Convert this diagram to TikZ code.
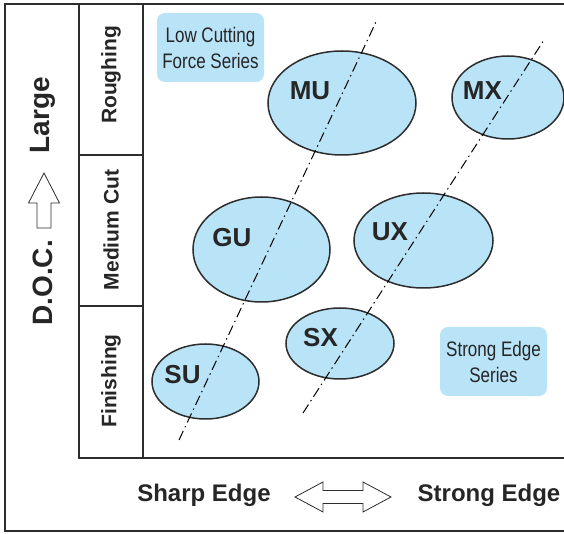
\documentclass[tikz,border=0pt]{standalone}
\usepackage{fontspec}
\setmainfont{Liberation Sans}
\newfontfamily\narrowsans[FakeStretch=0.81]{Liberation Sans}
\usetikzlibrary{shapes.geometric}

\definecolor{seriesblue}{RGB}{185,227,247}
\definecolor{frameline}{RGB}{45,45,45}

\tikzset{
  grade/.style={ellipse, draw=frameline, line width=0.75pt, fill=seriesblue, inner sep=0pt},
  gradename/.style={font=\fontsize{13}{15}\selectfont\bfseries, text=black!85},
  centreline/.style={line width=0.5pt, dash pattern=on 5pt off 2pt on 0.7pt off 2pt},
  seriesbox/.style={fill=seriesblue, rounded corners=4pt, align=center, inner sep=0pt,
    font=\narrowsans\fontsize{10.5}{13}\selectfont, text=black!85},
  rowlabel/.style={rotate=90, font=\fontsize{10.5}{12}\selectfont\bfseries, text=black!85},
  bigaxis/.style={rotate=90, font=\fontsize{14}{16}\selectfont\bfseries, text=black!85},
  axislabel/.style={font=\fontsize{12}{14}\selectfont\bfseries, text=black!85},
  hollow/.style={draw=frameline, line width=0.4pt, fill=white}
}

\begin{document}
\begin{tikzpicture}[x=0.5pt, y=-0.5pt]
    \useasboundingbox (0,0) rectangle (564,534);

    % Outer frame and the chart area
    \draw[frameline, line width=0.8pt] (564,4) -- (5,4) -- (5,531) -- (564,531);
    \draw[frameline, line width=0.8pt] (79,4) -- (79,458) -- (564,458);
    \draw[frameline, line width=0.8pt] (143,4) -- (143,458);
    \draw[frameline, line width=0.8pt] (79,155) -- (143,155);
    \draw[frameline, line width=0.8pt] (79,306) -- (143,306);

    % Cutting depth rows
    \node[rowlabel] (rough) at (111,75) {Roughing};
    \node[rowlabel] (medium) at (111,230) {Medium Cut};
    \node[rowlabel] (finish) at (111,381) {Finishing};

    % Depth of cut axis
    \node[bigaxis] (large) at (43,115) {Large};
    \node[bigaxis] (doc) at (43,283) {D.O.C.};
    \draw[hollow] (44,173) -- (59.5,203) -- (51,203) -- (51,228)
        -- (37,228) -- (37,203) -- (28.5,203) -- cycle;

    % Edge axis
    \node[axislabel] (sharp) at (204,495) {Sharp Edge};
    \node[axislabel] (strong) at (489,495) {Strong Edge};
    \draw[hollow] (295,497) -- (323,482) -- (323,490.5) -- (363,490.5) -- (363,482)
        -- (391,497) -- (363,512) -- (363,503.5) -- (323,503.5) -- (323,512) -- cycle;

    % Series boxes
    \node[seriesbox, minimum width=53.5pt, minimum height=34.5pt] (lowforce) at (210.5,47.5)
        {Low Cutting\\Force Series};
    \node[seriesbox, minimum width=53.5pt, minimum height=34.5pt] (strongseries) at (493.5,361.5)
        {Strong Edge\\Series};

    % Grades
    \node[grade, minimum width=74pt, minimum height=52pt] (mu) at (342,103) {};
    \node[grade, minimum width=56pt, minimum height=41.5pt] (mx) at (508,97.5) {};
    \node[grade, minimum width=68.5pt, minimum height=52.5pt] (gu) at (261.5,249.5) {};
    \node[grade, minimum width=69.5pt, minimum height=47.5pt] (ux) at (423.5,240.5) {};
    \node[grade, minimum width=54pt, minimum height=35.5pt] (sx) at (340,343.5) {};
    \node[grade, minimum width=53.5pt, minimum height=37.5pt] (su) at (205.5,381.5) {};

    % Trend lines
    \coordinate (ulow) at (179,440);
    \coordinate (uhigh) at (376,22);
    \coordinate (xlow) at (303,413);
    \coordinate (xhigh) at (544,40);
    \draw[centreline] (ulow) -- (uhigh);
    \draw[centreline] (xlow) -- (xhigh);

    % Grade names
    \node[gradename] (mulabel) at (310,91) {MU};
    \node[gradename] (mxlabel) at (482.5,90.5) {MX};
    \node[gradename] (gulabel) at (232,238) {GU};
    \node[gradename] (uxlabel) at (390,232) {UX};
    \node[gradename] (sxlabel) at (320.5,338) {SX};
    \node[gradename] (sulabel) at (182.5,374.5) {SU};

\end{tikzpicture}
\end{document}
